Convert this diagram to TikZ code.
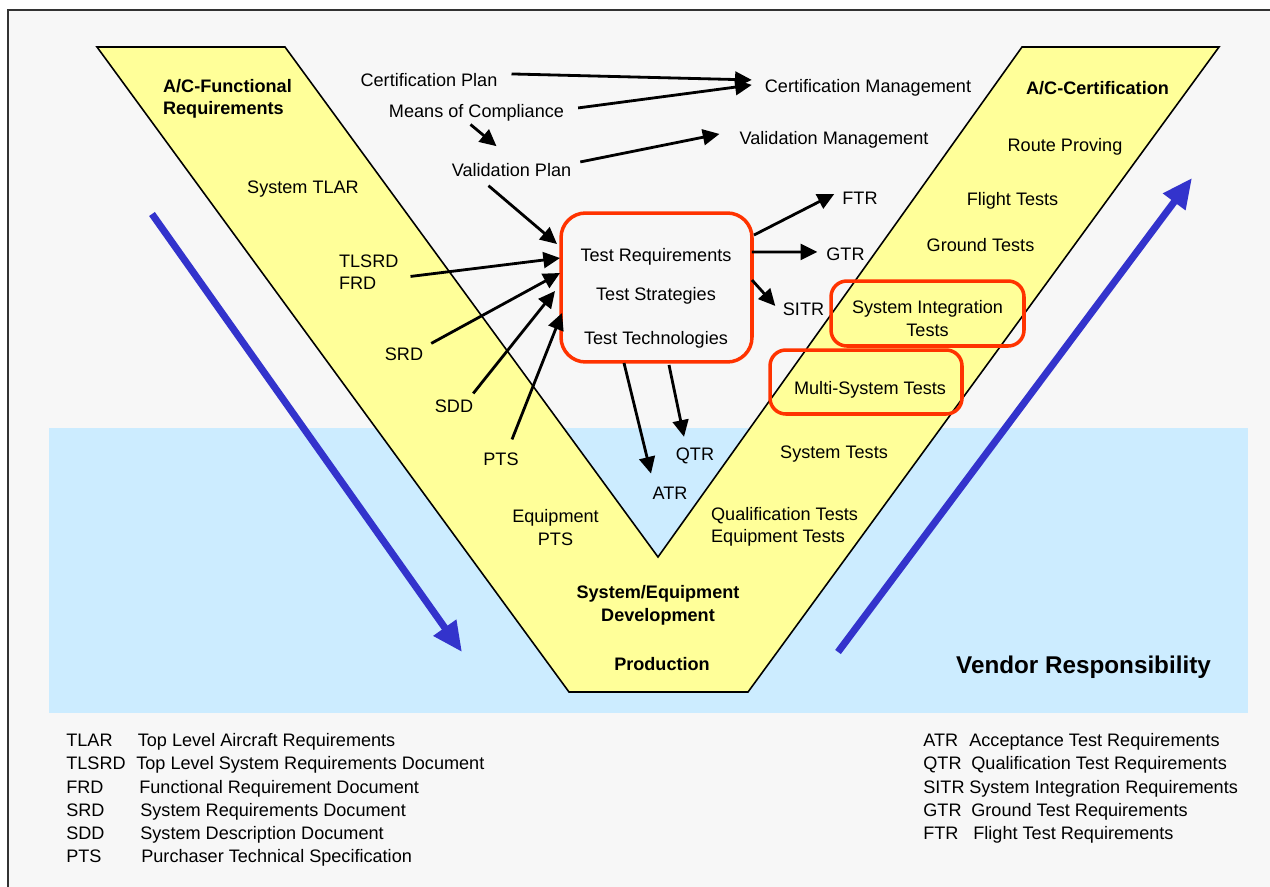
\documentclass[tikz,border=0pt]{standalone}
\usepackage{fontspec}
\setmainfont{Liberation Sans}
\usetikzlibrary{arrows.meta,calc}

\definecolor{vyellow}{HTML}{FFFF99}
\definecolor{vendorblue}{HTML}{CCECFF}
\definecolor{flowblue}{HTML}{3333CC}
\definecolor{boxred}{HTML}{FF3300}
\definecolor{pagegray}{HTML}{F7F7F7}

\tikzset{
  lbl/.style={font=\fontsize{10.3}{12.8}\selectfont, inner sep=1pt, align=center, yshift=-1.1pt},
  ttl/.style={font=\fontsize{10.3}{12.8}\selectfont\bfseries, inner sep=1pt, align=center, yshift=-1.1pt},
  leg/.style={font=\fontsize{10.3}{12.8}\selectfont, inner sep=0pt, anchor=base west},
  arr/.style={-{Triangle[length=9.5pt,width=9pt]}, line width=1.6pt},
  redbox/.style={draw=boxred, line width=2pt, rounded corners=#1, outer sep=0pt},
  flow/.style={-{Triangle[length=17pt,width=15pt]}, line width=4pt, flowblue},
}

\begin{document}
\begin{tikzpicture}[x=0.02cm, y=-0.02cm]
        \useasboundingbox (0,0) rectangle (1270,886);
        \clip (0,0) rectangle (1270,886);
        % frame and vendor zone
        \draw[line width=1.1pt, draw=black!80, fill=pagegray] (8,10) rectangle (1300,920);
        \fill[vendorblue] (49,428) rectangle (1248,713);
        % the V
        \draw[fill=vyellow, line width=0.9pt] (97,47) -- (285,47) -- (658,557) -- (1022,47)
              -- (1219,47) -- (748,692) -- (569,692) -- cycle;
        \draw[flow] (152,214) -- (462,652);
        \draw[flow] (838,652) -- (1192,178);

        % left arm
        \node[ttl, align=left, anchor=west] (acfunc) at (161,97) {A/C-Functional\\Requirements};
        \node[lbl] (systlar) at (303,187) {System TLAR};
        \node[lbl, align=left, anchor=west] (tlsrd) at (337,270) {TLSRD\\FRD};
        \node[lbl] (srd) at (404,352) {SRD};
        \node[lbl] (sdd) at (454,404) {SDD};
        \node[lbl] (pts) at (501,457) {PTS};
        \node[lbl] (eqpts) at (555.5,525.5) {Equipment\\PTS};
        \node[ttl] (sysdev) at (658,603.5) {System/Equipment\\Development};
        \node[ttl] (prod) at (662,662) {Production};

        % right arm
        \node[ttl] (accert) at (1097.5,86) {A/C-Certification};
        \node[lbl] (route) at (1065,145) {Route Proving};
        \node[lbl] (flight) at (1012.5,199) {Flight Tests};
        \node[lbl] (ground) at (980.5,243) {Ground Tests};
        \node[redbox=9pt, minimum width=3.86cm, minimum height=1.3cm] (sitbox) at (927.5,313.5) {};
        \node[lbl] (sitests) at (927.5,316.5) {System Integration\\Tests};
        \node[redbox=9pt, minimum width=3.84cm, minimum height=1.28cm] (msbox) at (866,382) {};
        \node[lbl] (mstests) at (870,388) {Multi-System Tests};
        \node[lbl] (systests) at (834,452) {System Tests};
        \node[lbl, align=left, anchor=west] (qualtests) at (709,525) {Qualification Tests\\Equipment Tests};
        \node[font=\fontsize{13.8}{16}\selectfont\bfseries, yshift=-1.1pt] (vendor) at (1083.5,665) {Vendor Responsibility};

        % plans and management
        \node[lbl] (cplan) at (429,78) {Certification Plan};
        \node[lbl] (moc) at (476.5,111) {Means of Compliance};
        \node[lbl] (vplan) at (511.5,168) {Validation Plan};
        \node[lbl] (cmgmt) at (868,86) {Certification Management};
        \node[lbl] (vmgmt) at (834,138) {Validation Management};

        % test box
        \node[redbox=14pt, minimum width=3.82cm, minimum height=2.98cm] (tbox) at (656.5,287.5) {};
        \node[lbl] (treq) at (656,255) {Test Requirements};
        \node[lbl] (tstrat) at (656,294) {Test Strategies};
        \node[lbl] (ttech) at (656,338) {Test Technologies};
        \node[lbl] (ftr) at (860,196) {FTR};
        \node[lbl] (gtr) at (845.5,252) {GTR};
        \node[lbl] (sitr) at (803.5,307) {SITR};
        \node[lbl] (atr) at (670,491) {ATR};
        \node[lbl] (qtr) at (695,454) {QTR};

        \draw[arr] ($(cplan.east)+(12,-6)$) -- ($(cmgmt.west)+(-11,-8)$);
        \draw[arr] ($(moc.east)+(12,-5)$) -- ($(cmgmt.west)+(-11,-3)$);
        \draw[arr] ($(moc.south)+(-6,1)$) -- ($(vplan.north)+(-15,-15)$);
        \draw[arr] ($(vplan.east)+(7,-8)$) -- ($(vmgmt.west)+(-18,-6)$);
        \draw[arr] ($(vplan.south)+(-23,7)$) -- ($(tbox.north west)+(-4,31)$);
        \draw[arr] ($(tlsrd.east)+(10,4.5)$) -- ($(tbox.west)+(-1,-29.5)$);
        \draw[arr] ($(srd.north east)+(6,-2)$) -- ($(tbox.west)+(-1,-14.5)$);
        \draw[arr] ($(sdd.north east)+(-2,-4)$) -- ($(tbox.west)+(-6,3.5)$);
        \draw[arr] ($(pts.north)+(11,-11)$) -- ($(tbox.west)+(1,25.5)$);
        \draw[arr] ($(tbox.north east)+(2,22)$) -- ($(ftr.west)+(-6,-4)$);
        \draw[arr] ($(tbox.east)+(0,-35.5)$) -- ($(gtr.west)+(-7,-2)$);
        \draw[arr] ($(tbox.east)+(0,-7.5)$) -- ($(sitr.west)+(-5.5,-3)$);
        \draw[arr] ($(tbox.south)+(-32.5,1)$) -- ($(atr.north)+(-19,-11)$);
        \draw[arr] ($(tbox.south)+(12.5,3)$) -- ($(qtr.north)+(-11,-9)$);

        % legend
        \node[leg] (ktlar) at (66,746.5) {TLAR};
        \node[leg] (dtlar) at (137.5,746.5) {Top Level Aircraft Requirements};
        \node[leg] (ktlsrd) at (66,769.5) {TLSRD};
        \node[leg] (dtlsrd) at (136,769.5) {Top Level System Requirements Document};
        \node[leg] (kfrd) at (66,793.5) {FRD};
        \node[leg] (dfrd) at (139,793.5) {Functional Requirement Document};
        \node[leg] (ksrd) at (66,816.5) {SRD};
        \node[leg] (dsrd) at (140,816.5) {System Requirements Document};
        \node[leg] (ksdd) at (66,839.5) {SDD};
        \node[leg] (dsdd) at (140,839.5) {System Description Document};
        \node[leg] (kpts) at (66,862.5) {PTS};
        \node[leg] (dpts) at (141,862.5) {Purchaser Technical Specification};
        \node[leg] (katr) at (923,746.5) {ATR};
        \node[leg] (datr) at (969,746.5) {Acceptance Test Requirements};
        \node[leg] (kqtr) at (923,769.5) {QTR};
        \node[leg] (dqtr) at (971,769.5) {Qualification Test Requirements};
        \node[leg] (ksitr) at (923,793.5) {SITR};
        \node[leg] (dsitr) at (969,793.5) {System Integration Requirements};
        \node[leg] (kgtr) at (923,816.5) {GTR};
        \node[leg] (dgtr) at (971,816.5) {Ground Test Requirements};
        \node[leg] (kftr) at (923,839.5) {FTR};
        \node[leg] (dftr) at (973,839.5) {Flight Test Requirements};
\end{tikzpicture}
\end{document}
